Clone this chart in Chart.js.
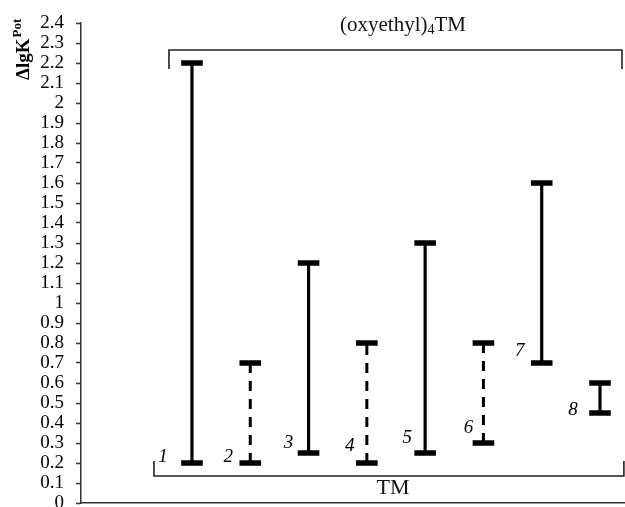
<!DOCTYPE html>
<html>
<head>
<meta charset="utf-8">
<script src="https://cdn.jsdelivr.net/npm/chart.js@4"></script>
<style>
html,body{margin:0;padding:0;background:#fff;}
canvas{display:block;}
</style>
</head>
<body>
<canvas id="c" width="625" height="507"></canvas>
<script>
// ---- data ----
const categories = ['1', '2', '3', '4', '5', '6', '7', '8'];
const xPositions = [1, 2, 3, 4, 5, 6, 7, 8];
const lowValues  = [0.2, 0.2, 0.25, 0.2, 0.25, 0.3, 0.7, 0.45];
const highValues = [2.2, 0.7, 1.2, 0.8, 1.3, 0.8, 1.6, 0.6];
const dashedBars = [false, true, false, true, false, true, false, false];
const yMin = 0, yMax = 2.4, yStep = 0.1;
const topGroupLabel = '(oxyethyl)';
const topGroupSub = '4';
const topGroupSuffix = 'TM';
const bottomGroupLabel = 'TM';
const yTitleMain = 'ΔlgK';
const yTitleSup = 'Pot';

// ---- styles / annotation geometry ----
const SERIF = '"Liberation Serif", "DejaVu Serif", serif';
// pixel offsets of the italic number labels from each bar's lower end
const labelOffsets = [[-29, -6], [-22, -6], [-20, -10], [-17, -17], [-18, -15], [-15, -15], [-22, -12], [-27, -3]];
const brackets = {
  top:    { x0: 0.605, x1: 8.377, y: 2.265, yEnd: 2.17 },
  bottom: { x0: 0.348, x1: 8.41,  y: 0.135, yEnd: 0.21 }
};
const topLabelPos = { x: 4.62, y: 2.39 };
const bottomLabelPos = { x: 4.45, y: 0.075 };

const datasets = categories.map((c, i) => ({
  label: c,
  data: [{ x: xPositions[i], y: lowValues[i] }, { x: xPositions[i], y: highValues[i] }],
  borderColor: '#000',
  borderWidth: dashedBars[i] ? 3 : 3.2,
  borderDash: dashedBars[i] ? [10, 8] : [],
  pointStyle: 'line',
  pointRadius: 10.8,
  pointBorderWidth: 5.5,
  pointBorderColor: '#000',
  pointBackgroundColor: '#000',
  pointHoverRadius: 10.8,
  fill: false,
  tension: 0
}));

const annot = {
  id: 'annot',
  afterDraw(chart) {
    const ctx = chart.ctx;
    const xs = chart.scales.x, ys = chart.scales.y;
    const px = v => xs.getPixelForValue(v);
    const py = v => ys.getPixelForValue(v);
    ctx.save();
    // brackets
    ctx.strokeStyle = '#222';
    ctx.lineWidth = 1.6;
    for (const k of ['top', 'bottom']) {
      const b = brackets[k];
      ctx.beginPath();
      ctx.moveTo(px(b.x0), py(b.yEnd));
      ctx.lineTo(px(b.x0), py(b.y));
      ctx.lineTo(px(b.x1), py(b.y));
      ctx.lineTo(px(b.x1), py(b.yEnd));
      ctx.stroke();
    }
    ctx.fillStyle = '#111';
    // top label with subscript
    ctx.textBaseline = 'middle';
    ctx.font = '21px ' + SERIF;
    const w1 = ctx.measureText(topGroupLabel).width;
    ctx.font = '14px ' + SERIF;
    const w2 = ctx.measureText(topGroupSub).width;
    ctx.font = '21px ' + SERIF;
    const w3 = ctx.measureText(topGroupSuffix).width;
    let tx = px(topLabelPos.x) - (w1 + w2 + w3) / 2;
    const ty = py(topLabelPos.y);
    ctx.textAlign = 'left';
    ctx.fillText(topGroupLabel, tx, ty);
    ctx.font = '14px ' + SERIF;
    ctx.fillText(topGroupSub, tx + w1, ty + 5);
    ctx.font = '21px ' + SERIF;
    ctx.fillText(topGroupSuffix, tx + w1 + w2, ty);
    // bottom label
    ctx.textAlign = 'center';
    ctx.font = '22px ' + SERIF;
    ctx.fillText(bottomGroupLabel, px(bottomLabelPos.x), py(bottomLabelPos.y));
    // bar number labels
    ctx.font = 'italic 19px ' + SERIF;
    ctx.fillStyle = '#000';
    categories.forEach((c, i) => {
      ctx.fillText(c, px(xPositions[i]) + labelOffsets[i][0], py(lowValues[i]) + labelOffsets[i][1]);
    });
    // y axis title (rotated)
    ctx.save();
    ctx.translate(24, 80);
    ctx.rotate(-Math.PI / 2);
    ctx.textAlign = 'left';
    ctx.textBaseline = 'middle';
    ctx.font = 'bold 19px ' + SERIF;
    ctx.fillText(yTitleMain, 0, 0);
    const wm = ctx.measureText(yTitleMain).width;
    ctx.font = 'bold 13px ' + SERIF;
    ctx.fillText(yTitleSup, wm + 1, -6);
    ctx.restore();
    ctx.restore();
  }
};

new Chart(document.getElementById('c'), {
  type: 'line',
  data: { datasets },
  options: {
    responsive: false,
    animation: false,
    events: [],
    clip: false,
    layout: { autoPadding: false, padding: { top: 23, right: 0, bottom: 0, left: 0 } },
    plugins: { legend: { display: false }, tooltip: { enabled: false } },
    scales: {
      x: {
        type: 'linear',
        min: -0.904,
        max: 8.429,
        ticks: { display: false },
        grid: { display: false, drawTicks: false },
        border: { display: true, color: '#333', width: 1.5 },
        afterFit(s) { s.height = 4; s.paddingLeft = 0; s.paddingRight = 0; s.paddingTop = 0; s.paddingBottom = 0; }
      },
      y: {
        type: 'linear',
        min: yMin,
        max: yMax,
        ticks: {
          stepSize: yStep,
          autoSkip: false,
          color: '#000',
          padding: 12,
          font: { family: SERIF, size: 19 },
          callback: v => String(Number(v.toFixed(1)))
        },
        grid: { drawOnChartArea: false, drawTicks: true, tickLength: 5, color: '#333', tickWidth: 1.5 },
        border: { display: true, color: '#333', width: 1.5 },
        afterFit(s) { s.width = 81; s.paddingTop = 0; s.paddingBottom = 0; s.paddingLeft = 0; s.paddingRight = 0; }
      }
    }
  },
  plugins: [annot]
});
</script>
</body>
</html>
